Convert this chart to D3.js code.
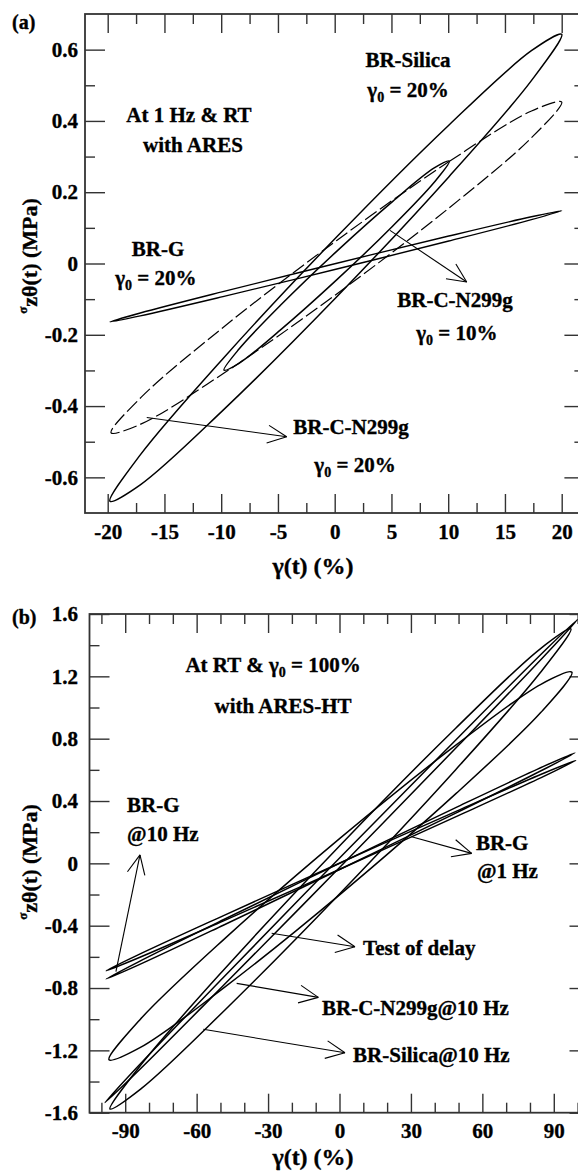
<!DOCTYPE html>
<html>
<head>
<meta charset="utf-8">
<script src="https://cdn.jsdelivr.net/npm/d3@7"></script>
<style>
  body { margin: 0; background: #fff; }
  svg { display: block; font-family: "Liberation Serif", "Times New Roman", serif; font-weight: bold; }
  text { stroke: #000; stroke-width: 0.35px; }
</style>
</head>
<body>
<svg id="chart" width="578" height="1172"></svg>
<script>
// ---- Panel (a): hysteresis loops at 1 Hz, room temperature (strain %, stress MPa)
const silica20A = [[0.1,0.072],[10.05,0.388],[17.33,0.597],[20.0,0.643],[17.33,0.513],[10.05,0.243],
                   [0.1,-0.096],[-9.85,-0.412],[-17.13,-0.621],[-19.8,-0.667],[-17.13,-0.537],[-9.85,-0.267]];
const n299g20A  = [[0.15,0.064],[10.08,0.286],[17.34,0.428],[20.0,0.453],[17.34,0.353],[10.08,0.156],
                   [0.15,-0.086],[-9.78,-0.308],[-17.04,-0.450],[-19.7,-0.475],[-17.04,-0.375],[-9.78,-0.178]];
const n299g10A  = [[0.17,0.034],[5.14,0.175],[8.77,0.268],[10.1,0.287],[8.77,0.228],[5.14,0.106],
                   [0.17,-0.046],[-4.8,-0.187],[-8.43,-0.280],[-9.76,-0.299],[-8.43,-0.240],[-4.8,-0.118]];
const brg20A    = [[0.1,0.000],[10.05,0.077],[17.33,0.131],[20.0,0.148],[17.33,0.123],[10.05,0.063],
                   [0.1,-0.016],[-9.85,-0.093],[-17.13,-0.147],[-19.8,-0.164],[-17.13,-0.139],[-9.85,-0.079]];

// ---- Panel (b): loops at 100 % strain amplitude
const silica10HzB = [[0.4,0.118],[48.8,0.867],[84.2,1.375],[97.2,1.504],[84.2,1.221],[48.8,0.601],
                     [0.4,-0.19],[-48.0,-0.939],[-83.4,-1.447],[-96.4,-1.576],[-83.4,-1.293],[-48.0,-0.673]];
const n299g10HzB  = [[0.4,0.163],[49.0,0.760],[84.6,1.149],[97.6,1.226],[84.6,0.969],[49.0,0.449],
                     [0.4,-0.197],[-48.2,-0.794],[-83.8,-1.183],[-96.8,-1.26],[-83.8,-1.003],[-48.2,-0.483]];
const delayTestB  = [[0.75,0.045],[50.4,0.816],[86.7,1.372],[100.0,1.565],[86.7,1.342],[50.4,0.764],
                     [0.75,-0.015],[-48.9,-0.786],[-85.2,-1.342],[-98.5,-1.535],[-85.2,-1.312],[-48.9,-0.734]];
const brg10HzB    = [[0.45,0.0035],[49.7,0.364],[85.7,0.622],[98.9,0.709],[85.7,0.602],[49.7,0.329],
                     [0.45,-0.0365],[-48.8,-0.397],[-84.8,-0.655],[-98.0,-0.742],[-84.8,-0.635],[-48.8,-0.362]];
const brg1HzB     = [[0.6,0.0055],[49.9,0.340],[86.0,0.580],[99.2,0.660],[86.0,0.560],[49.9,0.306],
                     [0.6,-0.0345],[-48.7,-0.369],[-84.8,-0.609],[-98.0,-0.689],[-84.8,-0.589],[-48.7,-0.335]];

// ---- Ticks
const xTicksA = [-20,-15,-10,-5,0,5,10,15,20];
const xTickLabelsA = ["-20","-15","-10","-5","0","5","10","15","20"];
const xMinorA = [-17.5,-12.5,-7.5,-2.5,2.5,7.5,12.5,17.5];
const yTicksA = [-0.6,-0.4,-0.2,0,0.2,0.4,0.6];
const yTickLabelsA = ["-0.6","-0.4","-0.2","0","0.2","0.4","0.6"];
const yMinorA = [-0.5,-0.3,-0.1,0.1,0.3,0.5];

const xTicksB = [-90,-60,-30,0,30,60,90];
const xTickLabelsB = ["-90","-60","-30","0","30","60","90"];
const xMinorB = [-100,-80,-70,-50,-40,-20,-10,10,20,40,50,70,80,100];
const yTicksB = [-1.6,-1.2,-0.8,-0.4,0,0.4,0.8,1.2,1.6];
const yTickLabelsB = ["-1.6","-1.2","-0.8","-0.4","0","0.4","0.8","1.2","1.6"];
const yMinorB = [-1.4,-1.0,-0.6,-0.2,0.2,0.6,1.0,1.4];

// ---- Annotation arrows: [from strain, from stress, to strain, to stress]
const arrowsA = [[4.87,0.093,11.63,-0.052],[-16.56,-0.432,-4.23,-0.486]];
const arrowsB = [[-93.9,-0.695,-83.8,0.054],[30.3,0.171,55.5,0.064],[-28.5,-0.449,6.5,-0.535],
                 [-43.2,-0.770,-8.9,-0.860],[-57.2,-1.065,2.3,-1.215]];

const svg = d3.select("#chart");
const FONT = '"Liberation Serif", "Times New Roman", serif';
const INK = "#333";

function drawAxes(g, x, y, xt, xl, xm, yt, yl, ym, xPad, yPad) {
  const [x0, x1] = x.range();
  const [yb, yt0] = y.range();
  const style = s => {
    s.attr("font-family", FONT).attr("font-size", 21).attr("font-weight", "bold").attr("color", INK);
    s.select(".domain").remove();
    s.selectAll(".tick line").attr("stroke-width", 1.4);
    s.selectAll(".tick text").attr("fill", "#000");
  };
  const none = () => "";
  // bottom
  g.append("g").attr("transform", `translate(0,${yb})`)
    .call(d3.axisBottom(x).tickValues(xt).tickFormat((d, i) => xl[i]).tickSizeInner(-19).tickSizeOuter(0).tickPadding(xPad)).call(style);
  g.append("g").attr("transform", `translate(0,${yb})`)
    .call(d3.axisBottom(x).tickValues(xm).tickFormat(none).tickSizeInner(-10).tickSizeOuter(0)).call(style);
  // top
  g.append("g").attr("transform", `translate(0,${yt0})`)
    .call(d3.axisTop(x).tickValues(xt).tickFormat(none).tickSizeInner(-19).tickSizeOuter(0)).call(style);
  g.append("g").attr("transform", `translate(0,${yt0})`)
    .call(d3.axisTop(x).tickValues(xm).tickFormat(none).tickSizeInner(-10).tickSizeOuter(0)).call(style);
  // left
  g.append("g").attr("transform", `translate(${x0},0)`)
    .call(d3.axisLeft(y).tickValues(yt).tickFormat((d, i) => yl[i]).tickSizeInner(-20).tickSizeOuter(0).tickPadding(yPad)).call(style);
  g.append("g").attr("transform", `translate(${x0},0)`)
    .call(d3.axisLeft(y).tickValues(ym).tickFormat(none).tickSizeInner(-10).tickSizeOuter(0)).call(style);
  // right
  g.append("g").attr("transform", `translate(${x1},0)`)
    .call(d3.axisRight(y).tickValues(yt).tickFormat(none).tickSizeInner(-20).tickSizeOuter(0)).call(style);
  g.append("g").attr("transform", `translate(${x1},0)`)
    .call(d3.axisRight(y).tickValues(ym).tickFormat(none).tickSizeInner(-10).tickSizeOuter(0)).call(style);
  // frame
  g.append("rect").attr("x", x0).attr("y", yt0).attr("width", x1 - x0).attr("height", yb - yt0)
    .attr("fill", "none").attr("stroke", INK).attr("stroke-width", 1.8);
}

function drawLoops(g, x, y, loops) {
  const line = d3.line().x(d => x(d[0])).y(d => y(d[1])).curve(d3.curveCatmullRomClosed.alpha(0.5));
  loops.forEach(l => {
    g.append("path").attr("d", line(l.data)).attr("fill", "none").attr("stroke", "#000")
      .attr("stroke-width", l.w || 1.5).attr("stroke-dasharray", l.dash || null).attr("stroke-linejoin", "round");
  });
}

function drawArrows(g, x, y, arrows) {
  const len = 21, spread = 25 * Math.PI / 180;
  arrows.forEach(a => {
    const x1 = x(a[0]), y1 = y(a[1]), x2 = x(a[2]), y2 = y(a[3]);
    const ang = Math.atan2(y2 - y1, x2 - x1) + Math.PI;
    g.append("line").attr("x1", x1).attr("y1", y1).attr("x2", x2).attr("y2", y2)
      .attr("stroke", "#000").attr("stroke-width", 1.1);
    [ang - spread, ang + spread].forEach(t => {
      g.append("line").attr("x1", x2).attr("y1", y2)
        .attr("x2", x2 + len * Math.cos(t)).attr("y2", y2 + len * Math.sin(t))
        .attr("stroke", "#000").attr("stroke-width", 1.1);
    });
  });
}

// text with optional gamma-zero subscript; parts: array of [string, isSub]
function label(g, px, py, parts, anchor) {
  const t = g.append("text").attr("x", px).attr("y", py).attr("font-size", 21)
    .attr("text-anchor", anchor || "middle").attr("fill", "#000");
  let shifted = false;
  parts.forEach(p => {
    const s = t.append("tspan").text(p[0]);
    if (p[1]) { s.attr("font-size", 14).attr("dy", 5); shifted = true; }
    else if (shifted) { s.attr("dy", -5); shifted = false; }
  });
  return t;
}

function yTitle(g, px, py) {
  const t = g.append("text").attr("transform", `translate(${px},${py}) rotate(-90)`)
    .attr("text-anchor", "middle").attr("font-size", 22).attr("fill", "#000");
  t.append("tspan").text("σ").attr("font-size", 13).attr("dy", -10);
  t.append("tspan").text("zθ(t) (MPa)").attr("dy", 10);
}

function xTitle(g, px, py) {
  g.append("text").attr("x", px).attr("y", py).attr("text-anchor", "middle")
    .attr("font-size", 24).attr("fill", "#000").text("γ(t) (%)");
}

// ================= Panel (a)
const xA = d3.scaleLinear().domain([-22, 22]).range([85, 584.4]);
const yA = d3.scaleLinear().domain([-0.7, 0.7]).range([513, 14]);
const gA = svg.append("g");
drawAxes(gA, xA, yA, xTicksA, xTickLabelsA, xMinorA, yTicksA, yTickLabelsA, yMinorA, 11, 7);
drawLoops(gA, xA, yA, [
  { data: n299g20A, dash: "14,4", w: 1.2 },
  { data: silica20A },
  { data: n299g10A },
  { data: brg20A, w: 1.4 }
]);
drawArrows(gA, xA, yA, arrowsA);
label(gA, xA(6.46), yA(0.551), [["BR-Silica"]]);
label(gA, xA(6.46), yA(0.467), [["γ"], ["0", true], [" = 20%"]]);
label(gA, xA(-12.84), yA(0.397), [["At 1 Hz & RT"]]);
label(gA, xA(-12.49), yA(0.313), [["with ARES"]]);
label(gA, xA(-15.57), yA(0.021), [["BR-G"]]);
label(gA, xA(-15.75), yA(-0.060), [["γ"], ["0", true], [" = 20%"]]);
label(gA, xA(10.6), yA(-0.122), [["BR-C-N299g"]]);
label(gA, xA(10.77), yA(-0.215), [["γ"], ["0", true], [" = 10%"]]);
label(gA, xA(1.44), yA(-0.479), [["BR-C-N299g"]]);
label(gA, xA(1.79), yA(-0.585), [["γ"], ["0", true], [" = 20%"]]);
gA.append("text").attr("x", 12).attr("y", 29).attr("font-size", 20).attr("fill", "#000").text("(a)");
yTitle(gA, 37, 256);
xTitle(gA, 313, 574);

// ================= Panel (b)
const xB = d3.scaleLinear().domain([-105, 105]).range([89.5, 589.5]);
const yB = d3.scaleLinear().domain([-1.6, 1.6]).range([1112.7, 614]);
const gB = svg.append("g");
drawAxes(gB, xB, yB, xTicksB, xTickLabelsB, xMinorB, yTicksB, yTickLabelsB, yMinorB, 10, 11.5);
drawLoops(gB, xB, yB, [
  { data: silica10HzB },
  { data: n299g10HzB },
  { data: delayTestB },
  { data: brg10HzB },
  { data: brg1HzB }
]);
drawArrows(gB, xB, yB, arrowsB);
label(gB, xB(-27.9), yB(1.228), [["At RT & γ"], ["0", true], [" = 100%"]]);
label(gB, xB(-23.7), yB(0.965), [["with ARES-HT"]]);
label(gB, xB(-89.2), yB(0.330), [["BR-G"]], "start");
label(gB, xB(-89.2), yB(0.143), [["@10 Hz"]], "start");
label(gB, xB(57.3), yB(0.086), [["BR-G"]], "start");
label(gB, xB(57.7), yB(-0.094), [["@1 Hz"]], "start");
label(gB, xB(9.9), yB(-0.588), [["Test of delay"]], "start");
label(gB, xB(-7.35), yB(-0.973), [["BR-C-N299g@10 Hz"]], "start");
label(gB, xB(5.7), yB(-1.275), [["BR-Silica@10 Hz"]], "start");
gB.append("text").attr("x", 12).attr("y", 624).attr("font-size", 20).attr("fill", "#000").text("(b)");
yTitle(gB, 37, 862);
xTitle(gB, 313, 1165);
</script>
</body>
</html>
